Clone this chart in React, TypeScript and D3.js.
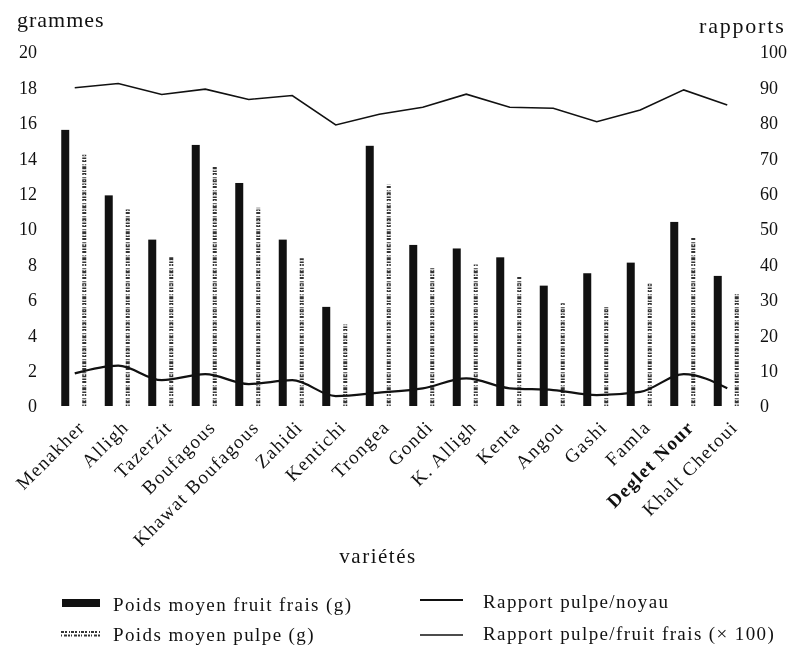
import React from "react";
import * as d3 from "d3";

const varietes = [
  "Menakher", "Alligh", "Tazerzit", "Boufagous", "Khawat Boufagous", "Zahidi",
  "Kentichi", "Trongea", "Gondi", "K. Alligh", "Kenta", "Angou", "Gashi",
  "Famla", "Deglet Nour", "Khalt Chetoui",
];
const poidsFruit = [15.6, 11.9, 9.4, 14.75, 12.6, 9.4, 5.6, 14.7, 9.1, 8.9, 8.4, 6.8, 7.5, 8.1, 10.4, 7.35];
const poidsPulpe = [14.2, 11.1, 8.4, 13.5, 11.2, 8.35, 4.6, 12.5, 7.9, 8.0, 7.3, 5.8, 5.6, 6.9, 9.5, 6.4];
const rapportPulpeFruit = [89.9, 91.1, 88.0, 89.5, 86.6, 87.7, 79.4, 82.4, 84.4, 88.1, 84.4, 84.1, 80.3, 83.6, 89.3, 85.0];
const rapportPulpeNoyau = [9.2, 11.4, 7.3, 9.0, 6.2, 7.3, 2.8, 3.8, 5.0, 7.8, 5.0, 4.5, 3.1, 4.0, 9.0, 5.0];
const gramTicks = [0, 2, 4, 6, 8, 10, 12, 14, 16, 18, 20];
const rapportTicks = [0, 10, 20, 30, 40, 50, 60, 70, 80, 90, 100];
const boldVariete = "Deglet Nour";

const W = 796;
const H = 647;
const FONT = "'Liberation Serif', 'DejaVu Serif', serif";
const INK = "#111";

export default function App() {
  const x = d3.scaleBand<string>().domain(varietes).range([52, 748]).padding(0);
  const yG = d3.scaleLinear().domain([0, 20]).range([406, 52]);
  const yR = d3.scaleLinear().domain([0, 100]).range([406, 52]);
  const cx = (v: string) => (x(v) ?? 0) + x.bandwidth() / 2;

  const lineUpper = d3
    .line<number>()
    .x((_, i) => cx(varietes[i]) + 1)
    .y((d) => yR(d))
    .curve(d3.curveLinear);
  const lineLower = d3
    .line<number>()
    .x((_, i) => cx(varietes[i]) + 1)
    .y((d) => yR(d))
    .curve(d3.curveMonotoneX);

  const legendText = { fontSize: 19, fill: INK, letterSpacing: 1.4 } as const;

  return (
    <div style={{ position: "absolute", left: 0, top: 0 }}>
      <svg
        width={W}
        height={H}
        style={{ display: "block", background: "#fff", filter: "grayscale(1)" }}
        fontFamily={FONT}
      >
        <rect x={0} y={0} width={W} height={H} fill="#fff" />
        {/* axis titles */}
        <text x={17} y={27} fontSize={22} letterSpacing={1} fill={INK}>grammes</text>
        <text x={699} y={33} fontSize={22} letterSpacing={1.8} fill={INK}>rapports</text>

        {/* left ticks */}
        {gramTicks.map((t) => (
          <text key={"g" + t} x={37} y={yG(t)} dy="0.35em" textAnchor="end" fontSize={18} fill={INK}>
            {t}
          </text>
        ))}
        {/* right ticks */}
        {rapportTicks.map((t) => (
          <text key={"r" + t} x={760} y={yR(t)} dy="0.35em" textAnchor="start" fontSize={18} fill={INK}>
            {t}
          </text>
        ))}

        {/* fruit frais bars */}
        {varietes.map((v, i) => (
          <rect
            key={"bf" + v}
            x={cx(v) - 8.5 - 4}
            y={yG(poidsFruit[i])}
            width={8}
            height={yG(0) - yG(poidsFruit[i])}
            fill={INK}
          />
        ))}
        {/* pulpe bars (speckled) */}
        {varietes.map((v, i) => (
          <g key={"bp" + v}>
            <line
              x1={cx(v) + 10.5}
              x2={cx(v) + 10.5}
              y1={yG(0)}
              y2={yG(poidsPulpe[i])}
              stroke="#333"
              strokeWidth={4}
              strokeDasharray="1.6 1.2 3 1 1 2.2 2 1"
            />
            <line
              x1={cx(v) + 10.5}
              x2={cx(v) + 10.5}
              y1={yG(0)}
              y2={yG(poidsPulpe[i])}
              stroke="#fff"
              strokeWidth={1.2}
              strokeDasharray="2 3 1 4"
              opacity={0.8}
            />
          </g>
        ))}

        {/* lines */}
        <path d={lineUpper(rapportPulpeFruit) ?? ""} fill="none" stroke={INK} strokeWidth={1.6} />
        <path d={lineLower(rapportPulpeNoyau) ?? ""} fill="none" stroke={INK} strokeWidth={2.2} />

        {/* category labels */}
        <g>
          {varietes.map((v) => {
            const lx = cx(v) + 3;
            const ly = 419;
            return (
              <text
                key={"l" + v}
                x={lx}
                y={ly}
                transform={`rotate(-45 ${lx} ${ly})`}
                textAnchor="end"
                dy="0.7em"
                fontSize={19}
                letterSpacing={1.4}
                fontWeight={v === boldVariete ? "bold" : "normal"}
                fill={INK}
              >
                {v}
              </text>
            );
          })}
        </g>

        <text x={378} y={563} textAnchor="middle" fontSize={21} letterSpacing={1.5} fill={INK}>variétés</text>

        {/* legend */}
        <rect x={62} y={599} width={38} height={8} fill={INK} />
        <text x={113} y={611} {...legendText}>Poids moyen fruit frais (g)</text>
        <g>
          <line x1={61} x2={100} y1={632} y2={632} stroke="#333" strokeWidth={2} strokeDasharray="3 1 2 2 1 1" />
          <line x1={61} x2={100} y1={635.5} y2={635.5} stroke="#333" strokeWidth={2} strokeDasharray="1 2 3 1 2 1" />
        </g>
        <text x={113} y={641} {...legendText}>Poids moyen pulpe (g)</text>

        <line x1={420} x2={463} y1={600} y2={600} stroke={INK} strokeWidth={2.2} />
        <text x={483} y={608} {...legendText}>Rapport pulpe/noyau</text>
        <line x1={420} x2={463} y1={635} y2={635} stroke={INK} strokeWidth={1.4} />
        <text x={483} y={640} {...legendText}>Rapport pulpe/fruit frais (× 100)</text>
      </svg>
    </div>
  );
}
